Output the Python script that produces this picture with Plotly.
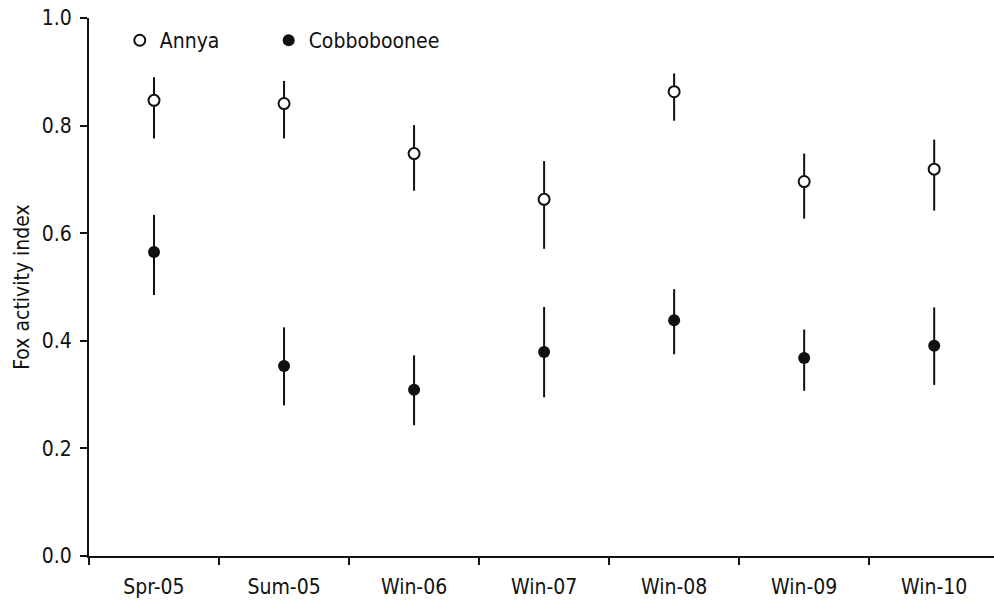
import plotly.graph_objects as go

# Survey periods
periods = ["Spr-05", "Sum-05", "Win-06", "Win-07", "Win-08", "Win-09", "Win-10"]

# Annya: index with upper / lower bounds
annya = [0.847, 0.841, 0.748, 0.663, 0.863, 0.696, 0.719]
annya_hi = [0.890, 0.883, 0.801, 0.734, 0.897, 0.748, 0.774]
annya_lo = [0.776, 0.776, 0.679, 0.571, 0.809, 0.627, 0.642]

# Cobboboonee: index with upper / lower bounds
cobb = [0.565, 0.353, 0.309, 0.379, 0.438, 0.368, 0.391]
cobb_hi = [0.634, 0.425, 0.373, 0.463, 0.496, 0.421, 0.462]
cobb_lo = [0.485, 0.280, 0.243, 0.295, 0.375, 0.307, 0.318]

y_ticks = [0.0, 0.2, 0.4, 0.6, 0.8, 1.0]

FONT = "DejaVu Sans Condensed, DejaVu Sans"
FSIZE = 21
INK = "#111111"

xpos = list(range(len(periods)))
bounds = [i - 0.5 for i in range(len(periods))]


def err(vals, hi, lo):
    return dict(
        type="data",
        symmetric=False,
        array=[h - v for h, v in zip(hi, vals)],
        arrayminus=[v - l for v, l in zip(vals, lo)],
        color=INK,
        thickness=2,
        width=0,
    )


fig = go.Figure()
fig.add_trace(go.Scatter(
    x=xpos, y=annya, mode="markers", name="Annya", legend="legend",
    marker=dict(symbol="circle", size=11, color="white",
                line=dict(color=INK, width=2)),
    error_y=err(annya, annya_hi, annya_lo),
))
fig.add_trace(go.Scatter(
    x=xpos, y=cobb, mode="markers", name="Cobboboonee", legend="legend2",
    marker=dict(symbol="circle", size=12, color=INK,
                line=dict(color=INK, width=0)),
    error_y=err(cobb, cobb_hi, cobb_lo),
))

legend_style = dict(
    orientation="h", y=0.958, xanchor="left", yanchor="middle",
    bgcolor="rgba(0,0,0,0)", borderwidth=0,
    font=dict(family=FONT, size=FSIZE, color=INK),
    itemwidth=30,
)

fig.update_layout(
    width=994, height=601,
    margin=dict(l=89, r=0, t=18, b=45),
    paper_bgcolor="white", plot_bgcolor="white",
    font=dict(family=FONT, size=FSIZE, color=INK),
    showlegend=True,
    legend=dict(x=0.034, **legend_style),
    legend2=dict(x=0.1985, **legend_style),
    xaxis=dict(
        range=[-0.5, 6.46],
        tickmode="array", tickvals=xpos, ticktext=periods,
        ticks="", ticklabelstandoff=11,
        showline=True, linecolor=INK, linewidth=2,
        showgrid=False, zeroline=False,
        minor=dict(tickmode="array", tickvals=bounds, ticks="outside",
                   ticklen=7, tickwidth=2, tickcolor=INK, showgrid=False),
        fixedrange=True,
    ),
    yaxis=dict(
        range=[0, 1],
        tickmode="array", tickvals=y_ticks,
        ticktext=[f"{v:.1f}" for v in y_ticks],
        ticks="outside", ticklen=7, tickwidth=2, tickcolor=INK,
        ticklabelstandoff=4,
        showline=True, linecolor=INK, linewidth=2,
        showgrid=False, zeroline=False,
        title=dict(text="Fox activity index", standoff=6,
                   font=dict(family=FONT, size=FSIZE, color=INK)),
        fixedrange=True,
    ),
)

fig.write_html("out.html", config={"displayModeBar": False})
